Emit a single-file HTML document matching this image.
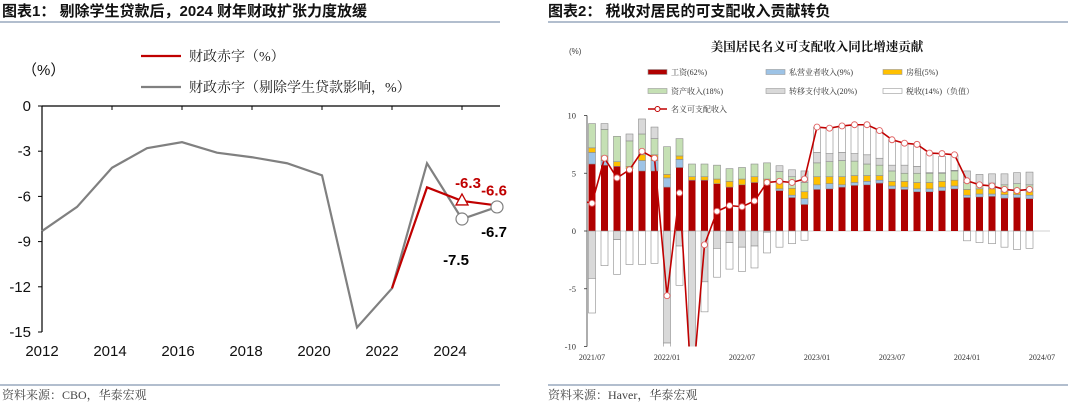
<!DOCTYPE html>
<html><head><meta charset="utf-8">
<style>
html,body{margin:0;padding:0;background:#fff;}
body{width:1080px;height:404px;overflow:hidden;position:relative;font-family:"Liberation Sans","Noto Sans CJK SC",sans-serif;}
svg{position:absolute;left:0;top:0;}
</style></head>
<body>
<svg id="s" width="1080" height="404" viewBox="0 0 1080 404">
  <text x="2" y="16" font-size="15" font-weight="bold" fill="#111" font-family="Liberation Sans, Noto Sans CJK SC, sans-serif">图表1：  剔除学生贷款后，2024 财年财政扩张力度放缓</text>
  <line x1="0" y1="22" x2="500" y2="22" stroke="#8497b0" stroke-width="1.2"/>
  <text x="548" y="16" font-size="15" font-weight="bold" fill="#111" font-family="Liberation Sans, Noto Sans CJK SC, sans-serif">图表2：  税收对居民的可支配收入贡献转负</text>
  <line x1="548" y1="22" x2="1068" y2="22" stroke="#8497b0" stroke-width="1.2"/>
  <line x1="0" y1="385" x2="500" y2="385" stroke="#8497b0" stroke-width="1.2"/>
  <line x1="548" y1="385" x2="1068" y2="385" stroke="#8497b0" stroke-width="1.2"/>
  <text x="2" y="399" font-size="12" fill="#444" font-family="Liberation Serif, Noto Serif CJK SC, serif">资料来源：CBO，华泰宏观</text>
  <text x="548" y="399" font-size="12" fill="#444" font-family="Liberation Serif, Noto Serif CJK SC, serif">资料来源：Haver，华泰宏观</text>
  <g id="c1"></g>
  <g id="c2"></g>
</svg>
<script>
// ---- Chart 1 data ----
const years = [2012,2013,2014,2015,2016,2017,2018,2019,2020,2021,2022,2023,2024,2025];
const adjDeficit = [-8.3,-6.7,-4.1,-2.8,-2.4,-3.1,-3.4,-3.8,-4.6,-14.7,-12.1,-3.8,-7.5,-6.7];
const redYears = [2022,2023,2024,2025];
const deficit = [-12.1,-5.4,-6.3,-6.6];
const yTicks1 = [0,-3,-6,-9,-12,-15];
const xTicks1 = [2012,2014,2016,2018,2020,2022,2024];

// ---- Chart 2 data ----
const months = 36; // 2021/07 .. 2024/06
const monthLabels = ["2021/07","2022/01","2022/07","2023/01","2023/07","2024/01","2024/07"];
const wage = [5.8,5.7,5.6,5.4,5.2,5.2,3.8,5.5,4.4,4.4,4.1,3.8,4.0,4.2,4.0,3.5,2.9,2.3,3.6,3.65,3.8,3.95,4.0,4.15,3.65,3.6,3.4,3.4,3.5,3.65,2.9,2.95,3.0,2.85,2.9,2.8];
const proprietors = [1.0,0.4,0,0,0.9,0.9,0.8,0.7,0,0,0,0,0,0,0,0.15,0.2,0.5,0.4,0.45,0.2,0.25,0.3,0.25,0.25,0.2,0.25,0.25,0.3,0.25,0.2,0.25,0.2,0.3,0.25,0.3];
const rent = [0.4,0.4,0.4,0.2,0.5,0.5,0.3,0.3,0.3,0.3,0.4,0.5,0.5,0.5,0.5,0.7,0.6,0.6,0.7,0.6,0.7,0.6,0.5,0.4,0.4,0.5,0.55,0.55,0.5,0.5,0.5,0.45,0.45,0.25,0.25,0.3];
const assetIncome = [2.1,2.3,2.2,2.2,1.8,1.4,2.4,1.5,1.1,1.1,1.2,1.1,1.0,1.1,1.4,0.8,1.0,0.8,1.2,1.3,1.4,1.25,1.0,0.9,0.9,0.7,0.8,0.8,0.7,0.8,0.6,0.45,0.5,0.6,0.7,0.6];
const transfers = [-4.1,0.5,-0.75,0.6,1.3,1.0,-9.7,-1.3,-11.5,-4.4,-1.5,-1.0,-1.4,-1.3,-0.1,0.5,0.6,1.0,0.9,0.7,0.7,0.65,0.8,0.6,0.5,0.7,0.6,0.05,0.05,0.05,1.0,0.8,0.8,0.95,0.95,1.1];
const taxes = [-3.0,-3.0,-3.0,-2.9,-2.9,-2.8,-0.4,-3.4,-1.0,-2.6,-2.5,-2.3,-2.1,-1.9,-1.8,-1.4,-1.1,-0.8,2.2,2.2,2.3,2.5,2.6,2.4,2.2,1.9,1.9,1.7,1.4,1.35,-0.85,-1.0,-1.1,-1.4,-1.6,-1.5];
const nominalIncome = [2.4,6.3,4.6,5.3,6.9,6.3,-5.6,3.3,-14,-1.2,1.7,2.2,2.1,2.6,4.2,4.3,4.2,4.5,9.0,8.9,9.1,9.2,9.2,8.7,7.9,7.6,7.5,6.75,6.7,6.6,4.35,4.0,3.9,3.6,3.5,3.6];
const yTicks2 = [10,5,0,-5,-10];

const NS="http://www.w3.org/2000/svg";
function mk(parent, tag, attrs){const e=document.createElementNS(NS,tag);for(const k in attrs)e.setAttribute(k,attrs[k]);parent.appendChild(e);return e;}

// ===== Chart 1 =====
(function(){
const g=document.getElementById('c1');
const X=y=>42+(y-2012)*35, XL=y=>42+(y-2012)*34, Y=v=>106-v*(226/15);
let e;
e=mk(g,'line',{x1:42,y1:106,x2:500,y2:106,stroke:'#000','stroke-width':1.2});


e=mk(g,'line',{x1:42,y1:106,x2:42,y2:332,stroke:'#000','stroke-width':1.2});


yTicks1.forEach(v=>{
  mk(g,'line',{x1:38,y1:Y(v),x2:42,y2:Y(v),stroke:'#000'});
  e=mk(g,'text',{x:31,y:Y(v)+5,'font-size':15,'text-anchor':'end',fill:'#111'});e.textContent=v;
  
  
});
xTicks1.forEach(y=>{
  mk(g,'line',{x1:X(y),y1:106,x2:X(y),y2:110,stroke:'#000'});
  e=mk(g,'text',{x:XL(y),y:356,'font-size':15,'text-anchor':'middle',fill:'#111'});e.textContent=y;
  
  
});
e=mk(g,'text',{x:22,y:75,'font-size':15,fill:'#111'});e.textContent='（%）';


// legend
mk(g,'line',{x1:141,y1:56,x2:181,y2:56,stroke:'#c00000','stroke-width':2.2});
e=mk(g,'text',{x:189,y:61,'font-size':14,fill:'#222','font-family':'Liberation Serif, Noto Serif CJK SC, serif'});e.textContent='财政赤字（%）';


mk(g,'line',{x1:141,y1:87,x2:181,y2:87,stroke:'#808080','stroke-width':2.2});
e=mk(g,'text',{x:189,y:92,'font-size':14,fill:'#222','font-family':'Liberation Serif, Noto Serif CJK SC, serif'});e.textContent='财政赤字（剔除学生贷款影响，%）';


// lines
e=mk(g,'polyline',{points:years.map((y,i)=>X(y)+','+Y(adjDeficit[i])).join(' '),fill:'none',stroke:'#808080','stroke-width':2.2});


e=mk(g,'polyline',{points:redYears.map((y,i)=>X(y)+','+Y(deficit[i])).join(' '),fill:'none',stroke:'#c00000','stroke-width':2.2});


// markers
const tx=X(2024), ty=Y(deficit[2]);
e=mk(g,'polygon',{points:`${tx},${ty-7} ${tx-6},${ty+4} ${tx+6},${ty+4}`,fill:'#fff',stroke:'#c00000','stroke-width':1.3});


[12,13].forEach(i=>{
  e=mk(g,'circle',{cx:X(years[i]),cy:Y(adjDeficit[i]),r:6,fill:'#fff',stroke:'#808080','stroke-width':1.2});
  
  
});
const lbl=(x,y,t,c,n)=>{e=mk(g,'text',{x:x,y:y,'font-size':15,'font-weight':'bold','text-anchor':'middle',fill:c});e.textContent=t;
  
  };
lbl(X(2024)+6,Y(deficit[2])-13,deficit[2].toFixed(1),'#c00000','label-deficit-2024');
lbl(X(2025)-3,Y(deficit[3])-10,deficit[3].toFixed(1),'#c00000','label-deficit-2025');
lbl(X(2025)-3,Y(adjDeficit[13])+30,adjDeficit[13].toFixed(1),'#000','label-adjusted-2025');
lbl(X(2024)-6,Y(adjDeficit[12])+46,adjDeficit[12].toFixed(1),'#000','label-adjusted-2024');
})();

// ===== Chart 2 =====
(function(){
const g=document.getElementById('c2');
const X=i=>592+i*12.5, Y=v=>231-v*11.55, bw=7;
let e;
e=mk(g,'text',{x:817,y:51,'font-size':12.5,'font-weight':'bold','text-anchor':'middle',fill:'#111','font-family':'Liberation Serif, Noto Serif CJK SC, serif'});
e.textContent='美国居民名义可支配收入同比增速贡献';


e=mk(g,'text',{x:569,y:54,'font-size':8,fill:'#444'});e.textContent='(%)';


// legend
const leg=[['工资(62%)','#b00000',648,72],['私营业者收入(9%)','#9dc3e6',766,72],['房租(5%)','#ffc000',883,72],
           ['资产收入(18%)','#c5e0b4',648,91],['转移支付收入(20%)','#d9d9d9',766,91],['税收(14%)（负值）','#ffffff',883,91]];
leg.forEach(l=>{
  mk(g,'rect',{x:l[2],y:l[3]-2.5,width:19,height:5,fill:l[1],stroke:'#999','stroke-width':0.6});
  e=mk(g,'text',{x:l[2]+23,y:l[3]+3,'font-size':8,fill:'#333','font-family':'Liberation Serif, Noto Serif CJK SC, serif'});e.textContent=l[0];
  
  
});
mk(g,'line',{x1:648,y1:109,x2:667,y2:109,stroke:'#c00000','stroke-width':1.5});
mk(g,'circle',{cx:657.5,cy:109,r:2.5,fill:'#fff',stroke:'#c00000','stroke-width':1});
e=mk(g,'text',{x:671,y:112,'font-size':8,fill:'#333','font-family':'Liberation Serif, Noto Serif CJK SC, serif'});e.textContent='名义可支配收入';


// axes
yTicks2.forEach(v=>{
  e=mk(g,'text',{x:576,y:Y(v)+3,'font-size':8.5,'text-anchor':'end',fill:'#333','font-family':'Liberation Serif, serif'});e.textContent=v;
  
  
  mk(g,'line',{x1:584,y1:Y(v),x2:587,y2:Y(v),stroke:'#333','stroke-width':0.8});
});
mk(g,'line',{x1:587,y1:Y(0),x2:1050,y2:Y(0),stroke:'#d9d9d9','stroke-width':1.2});
mk(g,'line',{x1:587,y1:Y(10),x2:587,y2:Y(-10),stroke:'#333','stroke-width':0.8});
monthLabels.forEach((m,k)=>{
  e=mk(g,'text',{x:X(k*6),y:360,'font-size':8,'text-anchor':'middle',fill:'#333','font-family':'Liberation Serif, serif'});e.textContent=m;
  
  
});
const defs=mk(g,'defs',{});
const cp=mk(defs,'clipPath',{id:'plot2'});
mk(cp,'rect',{x:587,y:Y(10)-2,width:470,height:Y(-10)-Y(10)+2});
const plot=mk(g,'g',{'clip-path':'url(#plot2)'});
const series=[[wage,'#b00000','wage'],[proprietors,'#9dc3e6','proprietors'],[rent,'#ffc000','rent'],[assetIncome,'#c5e0b4','asset-income'],[transfers,'#d9d9d9','transfers'],[taxes,'#ffffff','taxes']];
for(let i=0;i<months;i++){
  let pos=0,neg=0;
  series.forEach(s=>{
    const v=s[0][i]; if(!v) return;
    let y0,y1;
    if(v>0){y0=pos;y1=pos+v;pos=y1;}else{y0=neg;y1=neg+v;neg=y1;}
    e=mk(plot,'rect',{x:X(i)-bw/2,y:Math.min(Y(y0),Y(y1)),width:bw,height:Math.abs(Y(y1)-Y(y0)),fill:s[1],stroke:s[2]==='wage'?'none':'#8c8c8c','stroke-width':0.6});
    
    
  });
}
e=mk(plot,'polyline',{points:nominalIncome.map((v,i)=>X(i)+','+Y(v)).join(' '),fill:'none',stroke:'#c00000','stroke-width':1.6});


mk(plot,'line',{x1:587,y1:Y(2.5),x2:X(0),y2:Y(nominalIncome[0]),stroke:'#c00000','stroke-width':1.6});
nominalIncome.forEach((v,i)=>{
  e=mk(plot,'circle',{cx:X(i),cy:Y(v),r:3,fill:'#fff',stroke:'#e06060','stroke-width':0.9});
  
  
});
})();
</script>
</body></html>
